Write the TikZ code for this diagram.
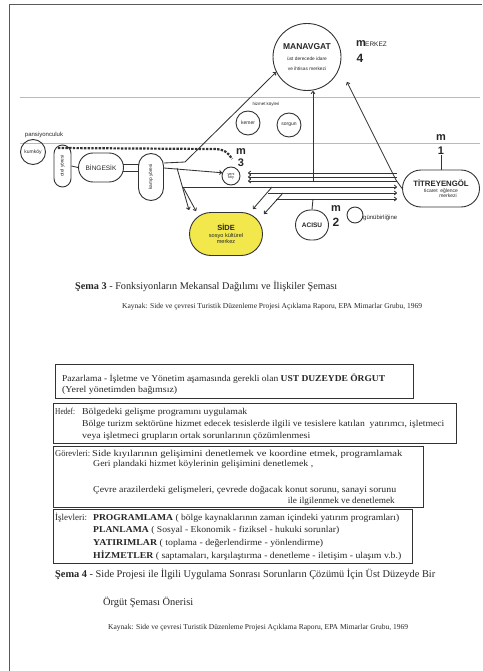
\documentclass[tikz,border=0pt]{standalone}
\usepackage{fontspec}
\setmainfont{Liberation Serif}
\setsansfont{Liberation Sans}
\usetikzlibrary{arrows.meta,shapes.geometric,shapes.misc}
\definecolor{ink}{gray}{0.2}
\definecolor{sideyel}{RGB}{242,232,76}
\newcommand\fitw[2]{\resizebox{#1}{\height}{#2}}
\begin{document}
\begin{tikzpicture}[x=1pt,y=-1pt,
  ln/.style={draw=ink,line width=0.85pt},
  arr/.style={ln,-{To[length=3pt,width=4.5pt]}},
  dnode/.style={draw=ink,line width=0.9pt,inner sep=0pt,align=center,font=\sffamily,text=black!85},
  lbl/.style={inner sep=0pt,font=\sffamily,text=black!85,align=center},
  bigm/.style={inner sep=0pt,font=\sffamily\bfseries\fontsize{11}{11}\selectfont,text=black!85},
  pageframe/.style={draw=black!65,line width=1.4pt},
  guide/.style={draw=gray!55,line width=0.6pt},
  boxline/.style={draw=ink,line width=1.1pt},
  bt/.style={anchor=base west,inner sep=0pt,font=\fontsize{9}{10}\selectfont,text=black!85},
  captxt/.style={anchor=base west,inner sep=0pt,text=black!85},
]
\useasboundingbox (0,0) rectangle (482,671);
% page frame
\draw[pageframe] (9.5,671) -- (9.5,4.5) -- (482,4.5);
% guide lines
\draw[guide] (20,97) -- (480,97);
\draw[guide] (20,143) -- (480,143);

% ---------- diagram nodes ----------
\node[dnode,ellipse,minimum width=68,minimum height=67] (manavgat) at (307,57)
  {{\bfseries\fontsize{8.5}{9}\selectfont MANAVGAT}\\[-1pt]{\fontsize{4.8}{5}\selectfont üst derecede idare}\\[-2pt]{\fontsize{4.8}{5}\selectfont ve ihtisas merkezi}};
\node[bigm] (m4) at (361,44) {m};
\node[lbl,anchor=west,font=\sffamily\fontsize{6.5}{7}\selectfont] (merkez) at (365,44) {ERKEZ};
\node[bigm,font=\sffamily\bfseries\fontsize{12}{12}\selectfont] (n4) at (360,58) {4};

\node[lbl,font=\sffamily\fontsize{4.4}{5}\selectfont] (hizmet) at (266,104) {hizmet köyleri};
\node[dnode,circle,minimum size=24,font=\sffamily\fontsize{5}{6}\selectfont] (kemer) at (248,123) {kemer};
\node[dnode,circle,minimum size=24,font=\sffamily\fontsize{5}{6}\selectfont] (sorgun) at (289,125) {sorgun};

\node[lbl,font=\sffamily\fontsize{6}{7}\selectfont] (pansiyon) at (44,135) {pansiyonculuk};
\node[dnode,circle,minimum size=25,font=\sffamily\fontsize{5}{6}\selectfont] (kumkoy) at (33,152) {kumköy};
\node[dnode,rounded rectangle,rotate=90,minimum width=42,minimum height=17,font=\sffamily\fontsize{4.8}{5}\selectfont] (otel) at (62.5,166) {otel yöresi};
\node[dnode,rounded rectangle,minimum width=45,minimum height=29,font=\sffamily\fontsize{6.5}{7}\selectfont] (bingesik) at (101,167.5) {BİNGESİK};
\node[dnode,rounded rectangle,rotate=90,minimum width=47,minimum height=25,font=\sffamily\fontsize{4.8}{5}\selectfont] (kamp) at (151,177) {kamp yöresi};

\node[bigm] (m3) at (241,152) {m};
\node[bigm] (n3) at (241,163) {3};
\node[dnode,circle,minimum size=18,font=\sffamily\fontsize{3.8}{4}\selectfont] (yeni) at (231,176) {yeni\\[-1pt]köy};

\node[dnode,rounded rectangle,fill=sideyel,minimum width=73,minimum height=43,font=\sffamily\fontsize{5.6}{6}\selectfont] (side) at (226,234)
  {{\bfseries\fontsize{7.5}{8}\selectfont SİDE}\\[1pt]sosyo kültürel\\merkez};
\node[dnode,rounded rectangle,minimum width=33,minimum height=30,font=\sffamily\bfseries\fontsize{6.5}{7}\selectfont] (acisu) at (312,225) {ACISU};
\node[bigm] (m2) at (336,209) {m};
\node[bigm,font=\sffamily\bfseries\fontsize{12}{12}\selectfont] (n2) at (336,222) {2};
\node[dnode,circle,minimum size=16] (gun) at (355,215) {};
\node[lbl,anchor=west,font=\sffamily\fontsize{6}{7}\selectfont] (gunlbl) at (363,218) {günübirliğine};

\node[dnode,rounded rectangle,minimum width=77,minimum height=37,font=\sffamily\fontsize{5}{6}\selectfont] (titrey) at (441,188.5)
  {{\bfseries\fontsize{7.8}{8}\selectfont TİTREYENGÖL}\\[0pt]ticaret\ \ eğlence\\[-1pt]\hspace*{14pt}merkezi};
\node[bigm] (m1) at (441,138) {m};
\node[bigm] (n1) at (441,151) {1};

% ---------- connectors ----------
\coordinate (j1) at (185,162);
\coordinate (j2) at (177,168);
\coordinate (vtop) at (313,91);
\coordinate (vbot) at (313,182);
\coordinate (vacs) at (313,199);
\coordinate (tcorner) at (396,180);
\coordinate (mtip) at (347,82);
\coordinate (sidel1) at (189,210);
\coordinate (sidel2) at (196,211);
\coordinate (sider1) at (253,209);
\coordinate (sider2) at (264,214);

% beach chain
\draw[ink,line width=2.2pt,dash pattern=on 2.4pt off 1.3pt] (58,148) -- (214,149) .. controls (224,149) and (229,153) .. (232,159);

\draw[ln] (otel.south) -- (bingesik.west);
\draw[ln] (123,164) -- (139,164);
\draw[ln] (123,171) -- (139,171);
\draw[ln] (164,163) -- (j1);
\draw[arr] (164,168) -- (yeni.160);
\draw[arr] (j1) -- (manavgat.206);
\draw[arr] (j2) -- (sidel1);
\draw[arr] (183,187) -- (sidel2);

% right-going arrows to Titreyengöl
\draw[arr] (183,187) -- (397,187);
\draw[arr] (268,193) -- (397,193);
\draw[arr] (276,199) -- (397,199);
% down-left arrows to Side
\draw[arr] (272,187) -- (sider1);
\draw[arr] (283,193) -- (sider2);
% left-going arrows to small circle
\draw[arr] (397,173) -- (248,173);
\draw[arr] (397,177) -- (248,177);
\draw[arr] (397,181) -- (248,181);
% vertical to Manavgat and Acısu
\draw[arr] (vbot) -- (vtop);
\draw[ln] (vacs) -- (acisu.north);
% Titreyengöl to Manavgat
\draw[arr] (titrey.west) -- (tcorner) -- (mtip);
\draw[ln] (n1.south) -- (titrey.north);

% ---------- captions ----------
\node[captxt] (cap3) at (75,289) {\resizebox{262pt}{!}{\textbf{Şema 3} - Fonksiyonların Mekansal Dağılımı ve İlişkiler Şeması}};
\node[captxt] (kay3) at (122,308) {\resizebox{300pt}{!}{Kaynak: Side ve çevresi Turistik Düzenleme Projesi Açıklama Raporu, EPA Mimarlar Grubu, 1969}};

% ---------- boxes ----------
\node[boxline,inner sep=0pt,minimum width=358,minimum height=34,anchor=north west] (b1) at (55,364) {};
\node[boxline,inner sep=0pt,minimum width=403,minimum height=40,anchor=north west] (b2) at (53,403) {};
\node[boxline,inner sep=0pt,minimum width=370,minimum height=61,anchor=north west] (b3) at (53,446) {};
\node[boxline,inner sep=0pt,minimum width=359,minimum height=54,anchor=north west] (b4) at (53,509) {};

\node[bt] (t11) at (62,381) {\fitw{323pt}{Pazarlama - İşletme ve Yönetim aşamasında gerekli olan \textbf{UST DUZEYDE ÖRGUT}}};
\node[bt] (t12) at (62,392) {\fitw{115pt}{(Yerel yönetimden bağımsız)}};

\node[bt] (t20) at (55,414) {\fitw{20pt}{Hedef:}};
\node[bt] (t21) at (82,414) {\fitw{165pt}{Bölgedeki gelişme programını uygulamak}};
\node[bt] (t22) at (82,426) {\fitw{362pt}{Bölge turizm sektörüne hizmet edecek tesislerde ilgili ve tesislere katılan \ yatırımcı, işletmeci}};
\node[bt] (t23) at (82,438) {\fitw{228pt}{veya işletmeci grupların ortak sorunlarının çözümlenmesi}};

\node[bt] (t30) at (55,456) {\fitw{35pt}{Görevleri:}};
\node[bt] (t31) at (92,456) {\fitw{310pt}{Side kıyılarının gelişimini denetlemek ve koordine etmek, programlamak}};
\node[bt] (t32) at (93,466) {\fitw{220pt}{Geri plandaki hizmet köylerinin gelişimini denetlemek ,}};
\node[bt] (t33) at (93,492) {\fitw{303pt}{Çevre arazilerdeki gelişmeleri, çevrede doğacak konut sorunu, sanayi sorunu}};
\node[bt,anchor=base east] (t34) at (395,503) {\fitw{107pt}{ile ilgilenmek ve denetlemek}};

\node[bt] (t40) at (55,520) {\fitw{32pt}{İşlevleri:}};
\node[bt] (t41) at (93,520) {\fitw{306pt}{\textbf{PROGRAMLAMA} ( bölge kaynaklarının zaman içindeki yatırım programları)}};
\node[bt] (t42) at (93,532) {\fitw{246pt}{\textbf{PLANLAMA} ( Sosyal - Ekonomik - fiziksel - hukuki sorunlar)}};
\node[bt] (t43) at (93,545) {\fitw{230pt}{\textbf{YATIRIMLAR} ( toplama - değerlendirme - yönlendirme)}};
\node[bt] (t44) at (93,558) {\fitw{308pt}{\textbf{HİZMETLER} ( saptamaları, karşılaştırma - denetleme - iletişim - ulaşım v.b.)}};

\node[captxt] (cap4) at (55,577) {\resizebox{380pt}{!}{\textbf{Şema 4} - Side Projesi ile İlgili Uygulama Sonrası Sorunların Çözümü İçin Üst Düzeyde Bir}};
\node[captxt] (cap4b) at (103,605) {\resizebox{90pt}{!}{Örgüt Şeması Önerisi}};
\node[captxt] (kay4) at (108,629) {\resizebox{300pt}{!}{Kaynak: Side ve çevresi Turistik Düzenleme Projesi Açıklama Raporu, EPA Mimarlar Grubu, 1969}};
\end{tikzpicture}
\end{document}
